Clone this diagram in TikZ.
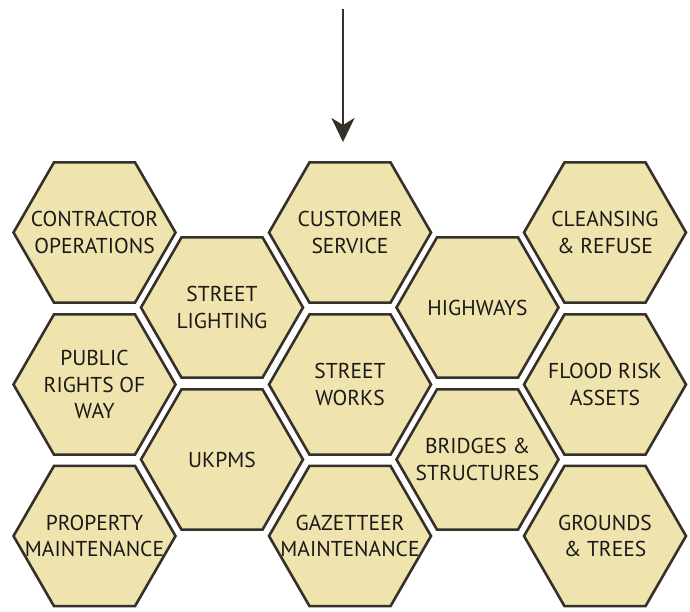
\documentclass[tikz,border=0pt]{standalone}
\usepackage{fontspec}
\setmainfont{PT Sans}
\usetikzlibrary{shapes.geometric,arrows.meta}
\definecolor{hexfill}{HTML}{F0E4AE}
\definecolor{hexline}{HTML}{35312A}
\tikzset{
  hexcell/.style={regular polygon,regular polygon sides=6,minimum size=162pt,inner sep=0pt,
    draw=hexline,fill=hexfill,line width=2.6pt},
  hextext/.style={align=center,font=\fontsize{21.5}{26.5}\selectfont,text=black!90},
  flowarrow/.style={draw=hexline,line width=2.6pt,-{Stealth[length=24pt,width=23pt,inset=7pt]}}
}
\begin{document}
\begin{tikzpicture}[x=1pt,y=-1pt]
  \useasboundingbox (0,0) rectangle (690,611);
  % first column
  \node[hexcell] (contractor) at (94.5,232.5) {};
  \node[hextext] at (contractor) {CONTRACTOR\\OPERATIONS};
  \node[hexcell] (rights) at (94.5,384.5) {};
  \node[hextext] at (rights) {PUBLIC\\RIGHTS OF\\WAY};
  \node[hexcell] (property) at (94.5,536) {};
  \node[hextext] at (property) {PROPERTY\\MAINTENANCE};
  % second column
  \node[hexcell] (lighting) at (222,307.5) {};
  \node[hextext] at (lighting) {STREET\\LIGHTING};
  \node[hexcell] (ukpms) at (222,459.5) {};
  \node[hextext] at (ukpms) {UKPMS};
  % third column
  \node[hexcell] (customer) at (350,232.5) {};
  \node[hextext] at (customer) {CUSTOMER\\SERVICE};
  \node[hexcell] (works) at (350,384.5) {};
  \node[hextext] at (works) {STREET\\WORKS};
  \node[hexcell] (gazetteer) at (350,536) {};
  \node[hextext] at (gazetteer) {GAZETTEER\\MAINTENANCE};
  % fourth column
  \node[hexcell] (highways) at (477.5,307.5) {};
  \node[hextext] at (highways) {HIGHWAYS};
  \node[hexcell] (bridges) at (477.5,459.5) {};
  \node[hextext] at (bridges) {BRIDGES \&\\STRUCTURES};
  % fifth column
  \node[hexcell] (cleansing) at (605,232.5) {};
  \node[hextext] at (cleansing) {CLEANSING\\\& REFUSE};
  \node[hexcell] (flood) at (605,384.5) {};
  \node[hextext] at (flood) {FLOOD RISK\\ASSETS};
  \node[hexcell] (grounds) at (605,536) {};
  \node[hextext] at (grounds) {GROUNDS\\\& TREES};
  % incoming arrow
  \coordinate (feed) at (343,9);
  \coordinate (tip) at ([yshift=19pt]customer.north -| feed);
  \draw[flowarrow] (feed) -- (tip);
\end{tikzpicture}
\end{document}
